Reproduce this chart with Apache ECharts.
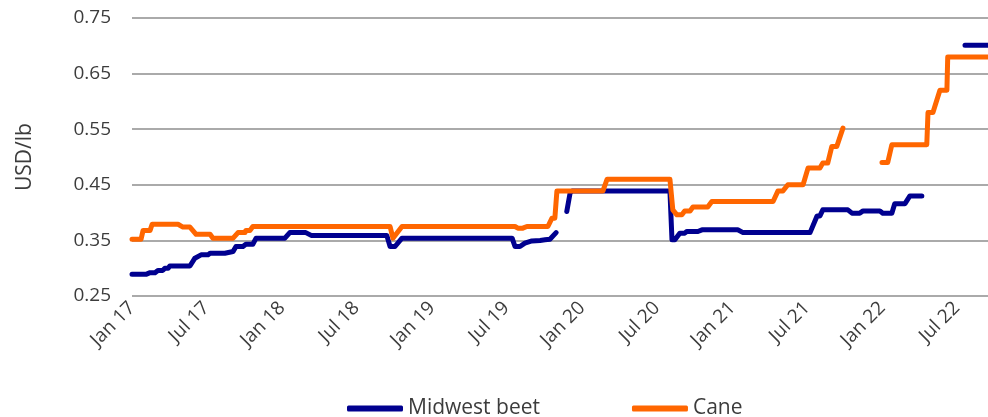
<!DOCTYPE html>
<html>
<head>
<meta charset="utf-8">
<script src="https://cdn.jsdelivr.net/npm/echarts@6.0.0/dist/echarts.min.js"></script>
<style>
  html, body { margin: 0; padding: 0; background: #fff; }
  #chart { width: 988px; height: 417px; }
</style>
</head>
<body>
<div id="chart"></div>
<script>
// tick labels on the x axis (every 6 months)
const tickDates = [
  '2017-01-01', '2017-07-01', '2018-01-01', '2018-07-01', '2019-01-01', '2019-07-01',
  '2020-01-01', '2020-07-01', '2021-01-01', '2021-07-01', '2022-01-01', '2022-07-01'
]

// Midwest beet, USD/lb (null = no quote)
const beetDates = [
  '2017-01-01', '2017-02-04', '2017-02-14', '2017-02-26', '2017-03-05', '2017-03-17',
  '2017-03-22', '2017-03-30', '2017-04-03', '2017-05-22', '2017-06-03', '2017-06-18',
  '2017-07-05', '2017-07-10', '2017-08-15', '2017-08-18', '2017-09-04', '2017-09-11',
  '2017-09-28', '2017-10-05', '2017-10-22', '2017-10-30', '2018-01-08', '2018-01-20',
  '2018-02-28', '2018-03-13', '2018-09-13', '2018-09-21', '2018-10-03', '2018-10-20',
  '2019-07-15', '2019-07-22', '2019-08-03', '2019-08-15', '2019-09-01', '2019-09-21',
  '2019-10-03', '2019-10-15', '2019-10-30', '2019-11-12', '2019-11-25', '2019-12-03',
  '2019-12-08', '2020-08-02', '2020-08-07', '2020-08-14', '2020-08-26', '2020-09-07',
  '2020-09-12', '2020-10-09', '2020-10-19', '2021-01-14', '2021-01-27', '2021-07-09',
  '2021-07-26', '2021-08-02', '2021-08-09', '2021-10-09', '2021-10-19', '2021-11-07',
  '2021-11-15', '2021-12-26', '2022-01-02', '2022-01-24', '2022-01-31', '2022-02-25',
  '2022-03-09', '2022-04-07', '2022-05-30', '2022-07-21', '2022-09-15'
]
const beetValues = [
  0.289, 0.289, 0.292, 0.292, 0.296, 0.296,
  0.300, 0.300, 0.304, 0.304, 0.318, 0.324,
  0.324, 0.327, 0.327, 0.330, 0.330, 0.339,
  0.339, 0.343, 0.343, 0.354, 0.354, 0.364,
  0.364, 0.359, 0.359, 0.339, 0.339, 0.354,
  0.354, 0.339, 0.339, 0.345, 0.349, 0.350,
  0.351, 0.352, 0.364, null, 0.402, 0.435,
  0.439, 0.439, 0.351, 0.351, 0.363, 0.363,
  0.366, 0.366, 0.369, 0.369, 0.364, 0.364,
  0.394, 0.394, 0.405, 0.405, 0.399, 0.399,
  0.403, 0.403, 0.399, 0.399, 0.416, 0.416,
  0.430, 0.430, null, 0.701, 0.701
]

// Cane, USD/lb
const caneDates = [
  '2017-01-01', '2017-01-23', '2017-01-28', '2017-02-14', '2017-02-19', '2017-04-23',
  '2017-05-05', '2017-05-22', '2017-06-06', '2017-07-10', '2017-07-17', '2017-09-04',
  '2017-09-16', '2017-10-03', '2017-10-05', '2017-10-15', '2017-10-22', '2018-09-21',
  '2018-09-28', '2018-10-20', '2019-07-22', '2019-07-29', '2019-08-10', '2019-08-20',
  '2019-10-10', '2019-10-20', '2019-10-27', '2019-11-01', '2020-02-21', '2020-03-02',
  '2020-08-02', '2020-08-09', '2020-08-19', '2020-08-31', '2020-09-07', '2020-09-20',
  '2020-09-27', '2020-11-02', '2020-11-12', '2021-04-10', '2021-04-22', '2021-05-04',
  '2021-05-16', '2021-06-22', '2021-07-04', '2021-08-02', '2021-08-09', '2021-08-21',
  '2021-08-31', '2021-09-12', '2021-09-27', '2021-11-15', '2021-12-31', '2022-01-14',
  '2022-01-24', '2022-04-19', '2022-04-22', '2022-05-04', '2022-05-21', '2022-06-07',
  '2022-06-09', '2022-09-15'
]
const caneValues = [
  0.352, 0.352, 0.368, 0.368, 0.379, 0.379,
  0.374, 0.374, 0.361, 0.361, 0.354, 0.354,
  0.364, 0.364, 0.368, 0.368, 0.375, 0.375,
  0.354, 0.375, 0.375, 0.372, 0.372, 0.375,
  0.375, 0.390, 0.390, 0.439, 0.439, 0.460,
  0.460, 0.405, 0.396, 0.396, 0.403, 0.403,
  0.410, 0.410, 0.420, 0.420, 0.439, 0.439,
  0.450, 0.450, 0.480, 0.480, 0.489, 0.489,
  0.519, 0.519, 0.552, null, 0.490, 0.490,
  0.522, 0.522, 0.580, 0.580, 0.620, 0.620,
  0.680, 0.680
]

const monthNames = ['Jan', 'Feb', 'Mar', 'Apr', 'May', 'Jun', 'Jul', 'Aug', 'Sep', 'Oct', 'Nov', 'Dec']
const toTime = s => {
  const p = s.split('-')
  return new Date(+p[0], +p[1] - 1, +p[2]).getTime()
}
const pairs = (dates, values) => dates.map((d, i) => [toTime(d), values[i] === null ? '-' : values[i]])

const fontFamily = '"Open Sans", "Noto Sans", sans-serif'
const textColor = '#3c3c3c'

const chart = echarts.init(document.getElementById('chart'))
chart.setOption({
  animation: false,
  grid: { left: 132, right: 0, top: 18, bottom: 121 },
  legend: {
    top: 398,
    left: 347,
    padding: 0,
    itemWidth: 56,
    itemHeight: 6,
    itemGap: 92,
    icon: 'roundRect',
    textStyle: { color: textColor, fontSize: 21, fontFamily: fontFamily },
    data: ['Midwest beet', 'Cane']
  },
  // dates kept as timestamps on a value axis so that the labels sit on Jan / Jul
  xAxis: {
    type: 'value',
    min: toTime('2017-01-01'),
    max: toTime('2022-09-15'),
    axisLine: { show: false },
    axisTick: { show: false },
    splitLine: { show: false },
    axisLabel: {
      customValues: tickDates.map(toTime),
      rotate: 45,
      margin: 9,
      color: textColor,
      fontSize: 19,
      fontFamily: fontFamily,
      formatter: v => {
        const d = new Date(v)
        return monthNames[d.getMonth()] + ' ' + String(d.getFullYear()).slice(2)
      }
    }
  },
  yAxis: {
    type: 'value',
    min: 0.25,
    max: 0.75,
    interval: 0.1,
    name: 'USD/lb',
    nameLocation: 'middle',
    nameGap: 96,
    nameTextStyle: { color: textColor, fontSize: 21, fontFamily: fontFamily },
    axisLine: { show: false },
    axisTick: { show: false },
    splitLine: { lineStyle: { color: '#8e8e8e', width: 1.5 } },
    axisLabel: {
      margin: 21,
      color: textColor,
      fontSize: 19,
      fontFamily: fontFamily,
      formatter: v => v.toFixed(2)
    }
  },
  series: [
    {
      name: 'Midwest beet',
      type: 'line',
      showSymbol: false,
      color: '#00008f',
      lineStyle: { width: 5, color: '#00008f', cap: 'round', join: 'round' },
      data: pairs(beetDates, beetValues)
    },
    {
      name: 'Cane',
      type: 'line',
      showSymbol: false,
      color: '#ff6600',
      lineStyle: { width: 5, color: '#ff6600', cap: 'round', join: 'round' },
      data: pairs(caneDates, caneValues)
    }
  ]
})
</script>
</body>
</html>
